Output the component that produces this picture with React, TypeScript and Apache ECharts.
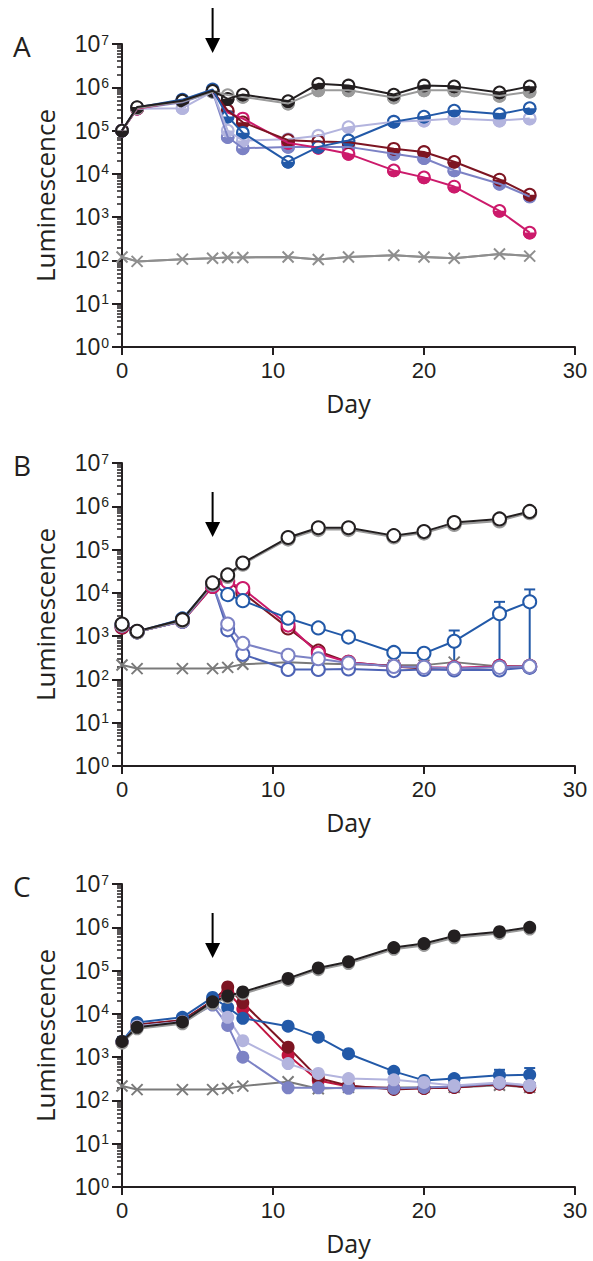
import React, { useEffect, useRef } from "react";
import * as echarts from "echarts";

// ---------- data ----------
const days = [0, 1, 4, 6, 7, 8, 11, 13, 15, 18, 20, 22, 25, 27];
const xTicks = [0, 10, 20, 30];
const yMajorTicks = [1, 10, 100, 1e3, 1e4, 1e5, 1e6, 1e7];

// Panel A (half-filled markers)
const aBlack = [1.0e5, 3.5e5, 4.9e5, 8.3e5, 5.4e5, 6.8e5, 4.8e5, 1.2e6, 1.1e6, 6.8e5, 1.1e6, 1.05e6, 7.6e5, 1.05e6];
const aGray = [1.0e5, 3.3e5, 4.7e5, 7.9e5, 6.6e5, 6.0e5, 4.2e5, 8.5e5, 8.5e5, 5.8e5, 8.5e5, 8.5e5, 6.3e5, 7.9e5];
const aMaroon = [1.0e5, 3.3e5, 5.0e5, 8.3e5, 2.9e5, 1.55e5, 6.0e4, 5.6e4, 5.4e4, 3.8e4, 3.2e4, 1.9e4, 7.4e3, 3.3e3];
const aMagenta = [1.0e5, 3.2e5, 4.8e5, 8.3e5, 2.6e5, 1.9e5, 5.2e4, 4.0e4, 2.9e4, 1.2e4, 8.3e3, 5.1e3, 1.4e3, 440];
const aBlue = [1.0e5, 3.4e5, 5.2e5, 8.9e5, 2.1e5, 8.9e4, 1.9e4, 4.2e4, 5.9e4, 1.6e5, 2.1e5, 2.9e5, 2.4e5, 3.3e5];
const aLavender = [1.0e5, 3.2e5, 3.3e5, 7.9e5, 1.0e5, 5.9e4, 6.3e4, 7.6e4, 1.2e5, 1.6e5, 1.7e5, 1.9e5, 1.7e5, 1.9e5];
const aPeriwinkle = [1.0e5, 3.2e5, 4.5e5, 7.9e5, 7.1e4, 3.9e4, 4.2e4, 4.2e4, 4.2e4, 2.9e4, 2.3e4, 1.2e4, 5.9e3, 3.0e3];
const aControl = [120, 95, 107, 112, 117, 117, 120, 105, 120, 132, 120, 112, 141, 126];

// Panel B (open markers)
const bBlack = [1.9e3, 1.3e3, 2.4e3, 1.7e4, 2.6e4, 4.9e4, 1.9e5, 3.2e5, 3.2e5, 2.1e5, 2.6e5, 4.2e5, 5.1e5, 7.6e5];
const bGray = [1.8e3, 1.25e3, 2.3e3, 1.6e4, 2.4e4, 4.6e4, 1.75e5, 2.9e5, 2.9e5, 1.95e5, 2.4e5, 3.8e5, 4.6e5, 7.1e5];
const bMaroon = [1.6e3, 1.26e3, 2.2e3, 1.4e4, 1.9e4, 1.0e4, 1.55e3, 450, 250, 200, 180, 180, 200, 200];
const bMagenta = [1.7e3, 1.26e3, 2.2e3, 1.4e4, 1.8e4, 1.26e4, 1.8e3, 400, 250, 200, 190, 185, 200, 200];
const bBlue = [1.8e3, 1.26e3, 2.5e3, 1.6e4, 9.1e3, 6.6e3, 2.6e3, 1.55e3, 950, 420, 400, 760, 3.3e3, 6.2e3];
const bPeriwinkle = [1.8e3, 1.26e3, 2.2e3, 1.6e4, 1.9e3, 680, 360, 300, 240, 200, 190, 180, 190, 200];
const bViolet = [1.8e3, 1.26e3, 2.2e3, 1.6e4, 1.4e3, 380, 170, 170, 175, 160, 170, 165, 165, 190];
const bControl = [215, 178, 178, 178, 190, 224, 251, 234, 224, 214, 214, 251, 200, 200];
const bBlueErrDays = [22, 25, 27];
const bBlueErrLow = [200, 200, 200];
const bBlueErrHigh = [1.35e3, 6.2e3, 1.2e4];

// Panel C (filled markers)
const cBlack = [2.3e3, 4.9e3, 6.5e3, 1.9e4, 2.6e4, 3.2e4, 6.6e4, 1.15e5, 1.6e5, 3.4e5, 4.2e5, 6.3e5, 7.9e5, 1.0e6];
const cGray = [2.1e3, 4.5e3, 5.9e3, 1.7e4, 2.4e4, 2.9e4, 6.0e4, 1.05e5, 1.45e5, 3.1e5, 3.8e5, 5.7e5, 7.2e5, 9.1e5];
const cMaroon = [2.2e3, 5.6e3, 7.1e3, 2.0e4, 4.2e4, 1.8e4, 1.7e3, 330, 220, 180, 190, 200, 240, 200];
const cMagenta = [2.2e3, 5.6e3, 7.1e3, 2.0e4, 3.2e4, 1.3e4, 1.1e3, 290, 210, 190, 190, 200, 240, 200];
const cBlue = [2.3e3, 6.3e3, 8.3e3, 2.4e4, 1.4e4, 7.9e3, 5.2e3, 2.9e3, 1.2e3, 470, 290, 320, 380, 390];
const cLavender = [2.2e3, 5.2e3, 6.6e3, 1.8e4, 8.3e3, 2.4e3, 710, 420, 320, 300, 260, 220, 260, 220];
const cPeriwinkle = [2.2e3, 5.2e3, 6.6e3, 1.6e4, 5.4e3, 1.0e3, 195, 195, 190, 190, 200, 210, 250, 220];
const cControl = [215, 178, 178, 178, 190, 214, 270, 186, 200, 200, 200, 200, 224, 200];
const cBlueErrDays = [25, 27];
const cBlueErrLow = [300, 300];
const cBlueErrHigh = [510, 560];

// ---------- styles ----------
const INK = "#231f20";
const C = {
  black: "#231f20",
  gray: "#9a9a9a",
  maroon: "#7d1522",
  magenta: "#cc1a6b",
  red: "#c0143f",
  blue: "#2259a8",
  lavender: "#b3b4de",
  periwinkle: "#7c82c5",
  violet: "#4d63b5",
  control: "#8e8e8e",
  controlDark: "#7a7a7a",
};
const NUM_FONT = "Liberation Sans";
const TITLE_FONT = "Open Sans";
const GRID_TOPS = [44, 463, 884];
const GRID_LEFT = 122;
const GRID_W = 453;
const GRID_H = 303;

const pairs = (xs: number[], ys: number[]) => xs.map((x, i) => [x, ys[i]]);

const minorTicks: number[] = [];
for (let e = 0; e < 7; e++) {
  for (let k = 2; k <= 9; k++) minorTicks.push(k * Math.pow(10, e));
}

const XSYM = "path://M0,0L10,10M10,0L0,10";

function lineOnly(g: number, vals: number[], color: string, width = 2) {
  return {
    type: "line",
    xAxisIndex: g,
    yAxisIndex: g * 2,
    data: pairs(days, vals),
    showSymbol: false,
    symbol: "none",
    lineStyle: { color, width },
    silent: true,
    z: 2,
  };
}

function halfMarkers(g: number, vals: number[], color: string) {
  return {
    type: "custom",
    xAxisIndex: g,
    yAxisIndex: g * 2,
    data: pairs(days, vals),
    encode: { x: 0, y: 1 },
    silent: true,
    z: 2,
    renderItem: (_p: any, api: any) => {
      const pt = api.coord([api.value(0), api.value(1)]);
      const r = 5.8;
      return {
        type: "group",
        children: [
          { type: "circle", shape: { cx: pt[0], cy: pt[1], r }, style: { fill: "#fff", stroke: color, lineWidth: 2 } },
          {
            type: "sector",
            shape: { cx: pt[0], cy: pt[1], r: r + 1, r0: 0, startAngle: 0, endAngle: Math.PI, clockwise: true },
            style: { fill: color },
          },
        ],
      };
    },
  };
}

function symLine(g: number, vals: number[], color: string, filled: boolean, size = 13, width = 2) {
  return {
    type: "line",
    xAxisIndex: g,
    yAxisIndex: g * 2,
    data: pairs(days, vals),
    symbol: "circle",
    symbolSize: size,
    showSymbol: true,
    lineStyle: { color, width },
    itemStyle: { color: filled ? color : "#fff", borderColor: color, borderWidth: filled ? 0 : 2 },
    silent: true,
    z: 2,
  };
}

function controlLine(g: number, vals: number[], color: string) {
  return {
    type: "line",
    xAxisIndex: g,
    yAxisIndex: g * 2,
    data: pairs(days, vals),
    symbol: XSYM,
    symbolSize: 11,
    showSymbol: true,
    lineStyle: { color, width: 2 },
    itemStyle: { color: "none", borderColor: color, borderWidth: 2 },
    silent: true,
    z: 2,
  };
}

function errorBars(g: number, xs: number[], lo: number[], hi: number[], color: string) {
  return {
    type: "custom",
    xAxisIndex: g,
    yAxisIndex: g * 2,
    data: xs.map((x, i) => [x, lo[i], hi[i]]),
    encode: { x: 0, y: [1, 2] },
    silent: true,
    z: 2,
    renderItem: (_p: any, api: any) => {
      const a = api.coord([api.value(0), api.value(1)]);
      const b = api.coord([api.value(0), api.value(2)]);
      const w = 5.5;
      const st = { stroke: color, lineWidth: 2 };
      return {
        type: "group",
        children: [
          { type: "line", shape: { x1: a[0], y1: a[1], x2: b[0], y2: b[1] }, style: st },
          { type: "line", shape: { x1: b[0] - w, y1: b[1], x2: b[0] + w, y2: b[1] }, style: st },
        ],
      };
    },
  };
}

function buildOption() {
  const grids = GRID_TOPS.map((top) => ({
    left: GRID_LEFT,
    top,
    width: GRID_W,
    height: GRID_H,
    outerBoundsMode: "none",
    containLabel: false,
  }));

  const axisLineStyle = { color: INK, width: 2 };

  const xAxes = GRID_TOPS.map((_t, g) => ({
    type: "value",
    gridIndex: g,
    min: 0,
    max: 30,
    interval: 10,
    axisLine: { show: true, onZero: false, lineStyle: axisLineStyle },
    axisTick: { show: true, inside: false, length: 8, customValues: xTicks, lineStyle: axisLineStyle },
    axisLabel: { show: true, customValues: xTicks, fontSize: 22, fontFamily: NUM_FONT, color: INK, margin: 12 },
    splitLine: { show: false },
    name: "Day",
    nameLocation: "middle",
    nameGap: 43,
    nameMoveOverlap: false,
    nameTextStyle: { fontSize: 25, fontFamily: TITLE_FONT, color: INK, lineHeight: 26 },
  }));

  const yAxes: any[] = [];
  GRID_TOPS.forEach((_t, g) => {
    yAxes.push({
      type: "log",
      logBase: 10,
      gridIndex: g,
      position: "left",
      min: 1,
      max: 1e7,
      axisLine: { show: true, onZero: false, lineStyle: axisLineStyle },
      axisTick: { show: true, inside: false, length: 10, customValues: yMajorTicks, lineStyle: axisLineStyle },
      axisLabel: {
        show: true,
        customValues: yMajorTicks,
        margin: 13,
        formatter: (v: number) => `{b|10}{s|${Math.round(Math.log10(v))}}`,
        rich: {
          b: { fontSize: 23, fontFamily: NUM_FONT, color: INK },
          s: { fontSize: 14, fontFamily: NUM_FONT, color: INK, verticalAlign: "top", padding: [0, 0, 0, 1] },
        },
      },
      splitLine: { show: false },
      name: "Luminescence",
      nameLocation: "middle",
      nameGap: 64,
      nameRotate: 90,
      nameMoveOverlap: false,
      nameTextStyle: { fontSize: 26, fontFamily: TITLE_FONT, color: INK },
    });
    yAxes.push({
      type: "log",
      logBase: 10,
      gridIndex: g,
      position: "left",
      offset: 0,
      min: 1,
      max: 1e7,
      axisLine: { show: false },
      axisTick: { show: true, inside: false, length: 5, customValues: minorTicks, lineStyle: { color: INK, width: 1.5 } },
      axisLabel: { show: false },
      splitLine: { show: false },
    });
  });

  const series: any[] = [
    // Panel A
    lineOnly(0, aControl, C.control),
    controlLine(0, aControl, C.control),
    lineOnly(0, aPeriwinkle, C.periwinkle),
    halfMarkers(0, aPeriwinkle, C.periwinkle),
    lineOnly(0, aLavender, C.lavender),
    halfMarkers(0, aLavender, C.lavender),
    lineOnly(0, aMagenta, C.magenta),
    halfMarkers(0, aMagenta, C.magenta),
    lineOnly(0, aMaroon, C.maroon),
    halfMarkers(0, aMaroon, C.maroon),
    lineOnly(0, aBlue, C.blue),
    halfMarkers(0, aBlue, C.blue),
    lineOnly(0, aGray, C.gray),
    halfMarkers(0, aGray, C.gray),
    lineOnly(0, aBlack, C.black),
    halfMarkers(0, aBlack, C.black),
    // Panel B
    controlLine(1, bControl, C.controlDark),
    errorBars(1, bBlueErrDays, bBlueErrLow, bBlueErrHigh, C.blue),
    symLine(1, bMaroon, C.maroon, false),
    symLine(1, bMagenta, C.magenta, false),
    symLine(1, bBlue, C.blue, false),
    symLine(1, bViolet, C.violet, false),
    symLine(1, bPeriwinkle, C.periwinkle, false),
    symLine(1, bGray, C.gray, false),
    symLine(1, bBlack, C.black, false),
    // Panel C
    controlLine(2, cControl, C.controlDark),
    errorBars(2, cBlueErrDays, cBlueErrLow, cBlueErrHigh, C.blue),
    symLine(2, cMagenta, C.red, true),
    symLine(2, cMaroon, C.maroon, true),
    symLine(2, cBlue, C.blue, true),
    symLine(2, cPeriwinkle, C.periwinkle, true),
    symLine(2, cLavender, C.lavender, true),
    symLine(2, cGray, C.gray, true),
    symLine(2, cBlack, C.black, true),
  ];

  const letters = ["A", "B", "C"];
  const arrowTops = [8, 492, 913];
  const graphic: any[] = [];
  letters.forEach((L, i) => {
    graphic.push({
      type: "text",
      left: 13,
      top: GRID_TOPS[i] - 12,
      style: { text: L, fontSize: 28, fontFamily: TITLE_FONT, fill: INK },
    });
    const ax = GRID_LEFT + (6 / 30) * GRID_W;
    const t = arrowTops[i];
    graphic.push({
      type: "line",
      shape: { x1: ax, y1: t, x2: ax, y2: t + 32 },
      style: { stroke: "#000", lineWidth: 2 },
    });
    graphic.push({
      type: "polygon",
      shape: { points: [[ax - 7.5, t + 30], [ax + 7.5, t + 30], [ax, t + 45]] },
      style: { fill: "#000" },
    });
  });

  return {
    animation: false,
    backgroundColor: "#fff",
    grid: grids,
    xAxis: xAxes,
    yAxis: yAxes,
    series,
    graphic,
  };
}

export default function App() {
  const ref = useRef<HTMLDivElement>(null);
  useEffect(() => {
    document.body.style.margin = "0";
    if (!ref.current) return;
    const chart = echarts.init(ref.current, undefined, { renderer: "svg" });
    chart.setOption(buildOption() as any);
    return () => {
      chart.dispose();
    };
  }, []);
  return <div ref={ref} style={{ width: 593, height: 1261 }} />;
}
